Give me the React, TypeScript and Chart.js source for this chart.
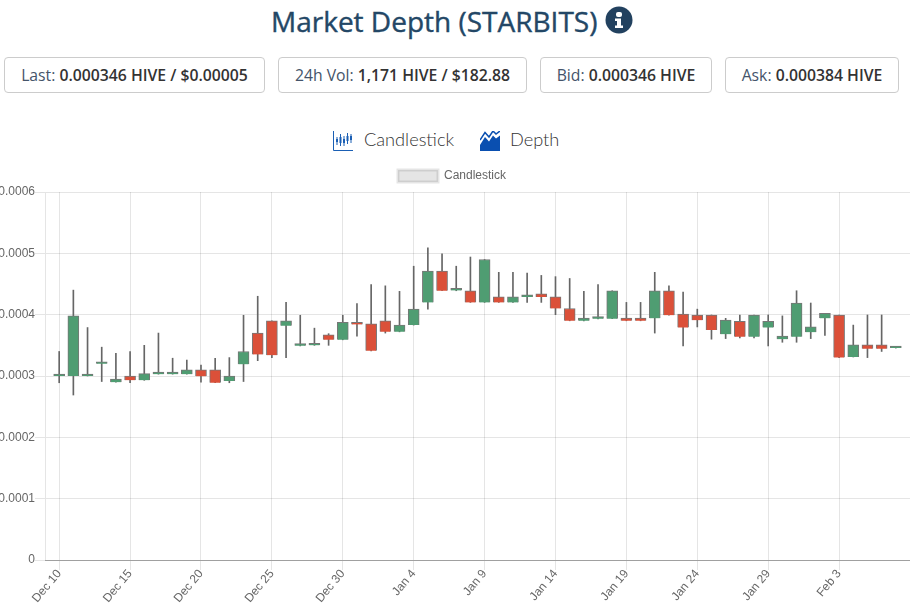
import React, { useEffect, useRef } from "react";
import { Chart, registerables } from "chart.js";

Chart.register(...registerables);

const startDate = "Dec 9";
const months: [string, number, number][] = [["Dec", 9, 31], ["Jan", 1, 31], ["Feb", 1, 8]];
const dayLabels: string[] = months.flatMap(([m, a, b]) => {
  const out: string[] = [];
  for (let d = a; d <= b; d++) out.push(`${m} ${d}`);
  return out;
});
const tickIndexes = [1, 6, 11, 16, 21, 26, 31, 36, 41, 46, 51, 56];
const yTickValues = [0, 0.0001, 0.0002, 0.0003, 0.0004, 0.0005, 0.0006];

// values in units of 0.0001 HIVE; the first candle is Dec 10
const opens = [3.0, 3.0, 3.0, 3.2, 2.9, 3.0, 2.93, 3.03, 3.03, 3.03, 3.1, 3.1, 2.92, 3.19, 3.7, 3.9, 3.82, 3.495, 3.5, 3.67, 3.59, 3.875, 3.85, 3.9, 3.72, 3.83, 4.2, 4.71, 4.395, 4.39, 4.2, 4.29, 4.2, 4.29, 4.34, 4.29, 4.1, 3.9, 3.935, 3.935, 3.945, 3.945, 3.94, 4.39, 4.01, 3.995, 3.995, 3.68, 3.89, 3.64, 3.79, 3.6, 3.64, 3.715, 3.94, 3.995, 3.31, 3.51, 3.51, 3.455];
const closes = [3.005, 3.98, 3.03, 3.205, 2.95, 2.93, 3.04, 3.04, 3.04, 3.1, 2.995, 2.89, 3.0, 3.4, 3.35, 3.34, 3.9, 3.5, 3.505, 3.59, 3.875, 3.84, 3.41, 3.72, 3.83, 4.09, 4.71, 4.39, 4.4, 4.2, 4.9, 4.2, 4.29, 4.295, 4.29, 4.1, 3.9, 3.945, 3.945, 4.39, 3.9, 3.9, 4.39, 3.99, 3.79, 3.91, 3.75, 3.91, 3.64, 3.995, 3.89, 3.65, 4.19, 3.8, 4.02, 3.3, 3.51, 3.445, 3.445, 3.46];
const highs = [3.4, 4.4, 3.79, 3.47, 3.37, 3.4, 3.5, 3.7, 3.29, 3.26, 3.18, 3.29, 3.3, 3.99, 4.3, 3.9, 4.2, 3.99, 3.78, 3.69, 3.99, 4.18, 4.49, 4.47, 4.38, 4.79, 5.09, 4.99, 4.79, 4.94, 4.9, 4.69, 4.69, 4.68, 4.64, 4.62, 4.59, 4.38, 4.49, 4.39, 4.2, 4.2, 4.69, 4.47, 4.37, 4.09, 3.995, 3.94, 3.995, 3.995, 3.995, 3.98, 4.39, 4.19, 4.02, 3.995, 3.83, 3.995, 3.995, 3.46];
const lows = [2.89, 2.69, 3.0, 2.91, 2.9, 2.89, 2.93, 3.03, 3.03, 3.03, 2.9, 2.89, 2.89, 2.91, 3.25, 3.3, 3.3, 3.49, 3.5, 3.5, 3.59, 3.65, 3.41, 3.7, 3.72, 3.83, 4.09, 4.39, 4.39, 4.2, 4.2, 4.2, 4.2, 4.2, 4.2, 4.0, 3.9, 3.9, 3.93, 3.935, 3.9, 3.9, 3.7, 3.99, 3.49, 3.8, 3.6, 3.61, 3.62, 3.62, 3.49, 3.55, 3.55, 3.61, 3.66, 3.3, 3.31, 3.3, 3.4, 3.455];

const UP = "#4f9d72";
const DOWN = "#db5039";
const EDGE = "#777";
const WICK = "#666";
const FONT = "'Liberation Sans', Arial, sans-serif";

const e4 = (v: number) => Math.round(v * 1e3) / 1e7;
const bodyPoints = opens.map((o, i) => ({ x: i + 1, y: [e4(o), e4(closes[i])] }));
const wickPoints = lows.map((l, i) => ({ x: i + 1, y: [e4(l), e4(highs[i])] }));
const bodyColors = opens.map((o, i) => (closes[i] >= o ? UP : DOWN));

const OS = "'Open Sans', sans-serif";

function Badge({ left, width, label, value }: { left: number; width: number; label: string; value: string }) {
  return (
    <div style={{ position: "absolute", left, top: 57, width, height: 36, boxSizing: "border-box", border: "1px solid #ccc", borderRadius: 4, textAlign: "center", lineHeight: "34px", fontFamily: OS, fontSize: 15.75, color: "#44546a", whiteSpace: "nowrap" }}>
      {label} <span style={{ fontWeight: 600, color: "#333" }}>{value}</span>
    </div>
  );
}

export default function App() {
  const ref = useRef<HTMLCanvasElement>(null);
  useEffect(() => {
    const chart = new Chart(ref.current!, {
      type: "bar",
      data: {
        datasets: [
          { label: "Candlestick", data: bodyPoints as any, backgroundColor: bodyColors, borderColor: EDGE, borderWidth: 1, barThickness: 11, minBarLength: 2, grouped: false } as any,
          { label: "Wick", data: wickPoints as any, backgroundColor: WICK, borderWidth: 0, barThickness: 1, grouped: false } as any,
        ],
      },
      options: {
        responsive: false,
        animation: false,
        devicePixelRatio: 1,
        plugins: {
          tooltip: { enabled: false },
          legend: {
            display: true,
            labels: {
              font: { family: FONT, size: 12 },
              color: "#666",
              boxWidth: 40,
              boxHeight: 12,
              generateLabels: () => [{ text: "Candlestick", fontColor: "#666", fillStyle: "rgba(0,0,0,0.1)", strokeStyle: "rgba(0,0,0,0.1)", lineWidth: 3, datasetIndex: 0 } as any],
            },
          },
        },
        scales: {
          x: {
            type: "linear",
            offset: false,
            min: 0,
            max: 61,
            afterBuildTicks: (s: any) => { s.ticks = tickIndexes.map((v) => ({ value: v })); },
            afterFit: (s: any) => { s.height = 44; },
            grid: { color: "rgba(0,0,0,0.1)", tickLength: 10, offset: false },
            border: { color: "rgba(0,0,0,0.3)" },
            ticks: {
              autoSkip: false,
              minRotation: 50,
              maxRotation: 50,
              padding: -3,
              color: "#666",
              font: { family: FONT, size: 12 },
              callback: (v: any) => dayLabels[Number(v)] ?? startDate,
            },
          },
          y: {
            min: 0,
            max: 0.0006,
            afterBuildTicks: (s: any) => { s.ticks = yTickValues.map((v) => ({ value: v })); },
            afterFit: (s: any) => { s.width = 51; },
            grid: { color: "rgba(0,0,0,0.1)", tickLength: 10 },
            border: { color: "rgba(0,0,0,0.1)" },
            ticks: {
              padding: 0,
              color: "#666",
              font: { family: FONT, size: 12 },
              callback: (v: any) => String(Number(Number(v).toFixed(4))),
            },
          },
        },
      },
    });
    return () => chart.destroy();
  }, []);
  return (
    <div style={{ position: "fixed", left: 0, top: 0, width: 921, height: 604, overflow: "hidden", background: "#fff" }}>
      <div style={{ position: "absolute", left: 271, top: 1, fontFamily: OS, fontSize: 28, fontWeight: 400, WebkitTextStroke: "0.4px #234766", color: "#234766", whiteSpace: "nowrap", lineHeight: "40px" }}>Market Depth (STARBITS)</div>
      <svg style={{ position: "absolute", left: 605, top: 6 }} width="28" height="28" viewBox="0 0 28 28">
        <circle cx="14" cy="14" r="13.5" fill="#22415f" />
        <rect x="11" y="6" width="6" height="5" rx="2" fill="#fff" />
        <path d="M10 12.5h6v7h2v2.5h-8v-2.5h2v-4.5h-2z" fill="#fff" />
      </svg>
      <Badge left={4} width={261} label="Last:" value="0.000346 HIVE / $0.00005" />
      <Badge left={278} width={249} label="24h Vol:" value="1,171 HIVE / $182.88" />
      <Badge left={540} width={172} label="Bid:" value="0.000346 HIVE" />
      <Badge left={725} width={174} label="Ask:" value="0.000384 HIVE" />
      <svg style={{ position: "absolute", left: 333, top: 131 }} width="21" height="20" viewBox="0 0 21 20">
        <path d="M0.5 0v19.5H20" fill="none" stroke="#1a5fb4" strokeWidth="1" />
        <path d="M4 6v8M7.500 3v12M11 5v10M14.500 2v11M18 3v9" fill="none" stroke="#1a5fb4" strokeWidth="1" />
        <path d="M3 8h2v3H3zM6.500 6h2v6h-2zM10 8h2v4h-2zM13.500 5h2v5h-2zM17 5h2v4h-2z" fill="#1a5fb4" />
      </svg>
      <div style={{ position: "absolute", left: 364, top: 126, fontFamily: "Lato, sans-serif", fontSize: 18.2, fontWeight: 300, color: "#333", lineHeight: "26px", whiteSpace: "nowrap" }}>Candlestick</div>
      <svg style={{ position: "absolute", left: 480, top: 131 }} width="20" height="20" viewBox="0 0 20 20">
        <path d="M0 14L5 6l4 4.500 4-6 3 3 4-3V20H0z" fill="#0a4fb0" />
        <path d="M0 9L5 1.500l4 4.500 4-6 3 3 4-3" fill="none" stroke="#0a4fb0" strokeWidth="1.500" />
      </svg>
      <div style={{ position: "absolute", left: 510, top: 126, fontFamily: "Lato, sans-serif", fontSize: 18.2, fontWeight: 300, color: "#333", lineHeight: "26px", whiteSpace: "nowrap" }}>Depth</div>
      <canvas ref={ref} width={916} height={444} style={{ position: "absolute", left: -6, top: 160, width: 916, height: 444 }} />
    </div>
  );
}
